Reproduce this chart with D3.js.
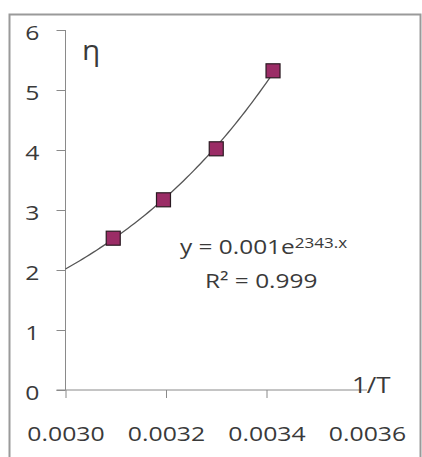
<!DOCTYPE html>
<html>
<head>
<meta charset="utf-8">
<script src="https://cdn.jsdelivr.net/npm/d3@7"></script>
<style>
  body { margin: 0; background: #fff; }
  text { font-family: "Open Sans", sans-serif; fill: #3a3a3a; }
</style>
</head>
<body>
<script>
'use strict';

// data
const invT = [0.003095, 0.003195, 0.0033, 0.003413];
const eta = [2.53, 3.17, 4.02, 5.32];
const xTicks = [0.0030, 0.0032, 0.0034, 0.0036];
const yTicks = [0, 1, 2, 3, 4, 5, 6];

const width = 422, height = 457;
const stretch = 1.24; // text in the source looks horizontally stretched

let svg = d3.select("body").append("svg")
    .attr("width", width)
    .attr("height", height);

// outer chart frame (cut off at bottom)
svg.append("rect")
    .attr("x", 9.5).attr("y", 14.5)
    .attr("width", 411).attr("height", 470)
    .attr("fill", "none")
    .attr("stroke", "#9a9a9a")
    .attr("stroke-width", 2);

let x = d3.scaleLinear().domain([0.0030, 0.0036]).range([65.5, 367]);
let y = d3.scaleLinear().domain([0, 6]).range([390, 30]);

// y axis
let yAxis = svg.append("g")
    .attr("transform", "translate(" + x(0.0030) + ",0)")
    .call(d3.axisLeft(y).tickValues(yTicks).tickSize(9).tickPadding(12).tickFormat(d3.format("d")));
yAxis.select(".domain").attr("stroke", "#8a8a8a").attr("d", "M0," + y(6) + "V" + y(0));
yAxis.selectAll(".tick line").attr("stroke", "#8a8a8a");
yAxis.selectAll("text")
    .style("font-size", "20px")
    .attr("fill", "#3a3a3a")
    .attr("dy", "0.45em")
    .attr("transform", "scale(" + stretch + ",1)");

// x axis
let xAxis = svg.append("g")
    .attr("transform", "translate(0," + y(0) + ")")
    .call(d3.axisBottom(x).tickValues(xTicks).tickSize(8).tickPadding(32).tickFormat(d3.format(".4f")));
xAxis.select(".domain").attr("stroke", "#8a8a8a").attr("d", "M" + (x(0.0030) - 9) + ",0H" + x(0.0036));
xAxis.selectAll(".tick line").attr("stroke", "#8a8a8a")
    .filter(function(d) { return d === 0.0036; }).remove();
xAxis.selectAll("text")
    .style("font-size", "20px")
    .attr("fill", "#3a3a3a")
    .attr("y", 51)
    .attr("dy", 0)
    .attr("transform", "scale(" + stretch + ",1)");

// exponential trendline, least squares on ln(y)
let lx = invT, ly = eta.map(function(v) { return Math.log(v); });
let mx = d3.mean(lx), my = d3.mean(ly);
let b = d3.sum(lx, function(v, i) { return (v - mx) * (ly[i] - my); }) /
        d3.sum(lx, function(v) { return (v - mx) * (v - mx); });
let a = Math.exp(my - b * mx);
let xs = d3.range(0, 61).map(function(i) { return 0.0030 + i * (d3.max(invT) - 0.0030) / 60; });

svg.append("path")
    .datum(xs)
    .attr("fill", "none")
    .attr("stroke", "#555")
    .attr("stroke-width", 1.3)
    .attr("d", d3.line()
        .x(function(d) { return x(d); })
        .y(function(d) { return y(a * Math.exp(b * d)); }));

// markers
svg.append("g").selectAll("rect")
    .data(invT)
    .enter().append("rect")
    .attr("x", function(d) { return x(d) - 7; })
    .attr("y", function(d, i) { return y(eta[i]) - 7; })
    .attr("width", 14)
    .attr("height", 14)
    .attr("fill", "#9b2c66")
    .attr("stroke", "#2b1a22")
    .attr("stroke-width", 1.2);

// labels
function label(px, py, size, sx) {
    return svg.append("text")
        .attr("transform", "translate(" + px + "," + py + ") scale(" + sx + ",1)")
        .style("font-size", size + "px");
}
label(82, 60, 27, 1.1).text("η");
label(352, 393, 22, 1.18).text("1/T");

let eq = label(180, 254, 20, 1.22);
eq.append("tspan").text("y = 0.001e");
eq.append("tspan").attr("dy", -6).style("font-size", "14px").text("2343.x");
label(205, 288, 20, 1.22).text("R² = 0.999");
</script>
</body>
</html>
